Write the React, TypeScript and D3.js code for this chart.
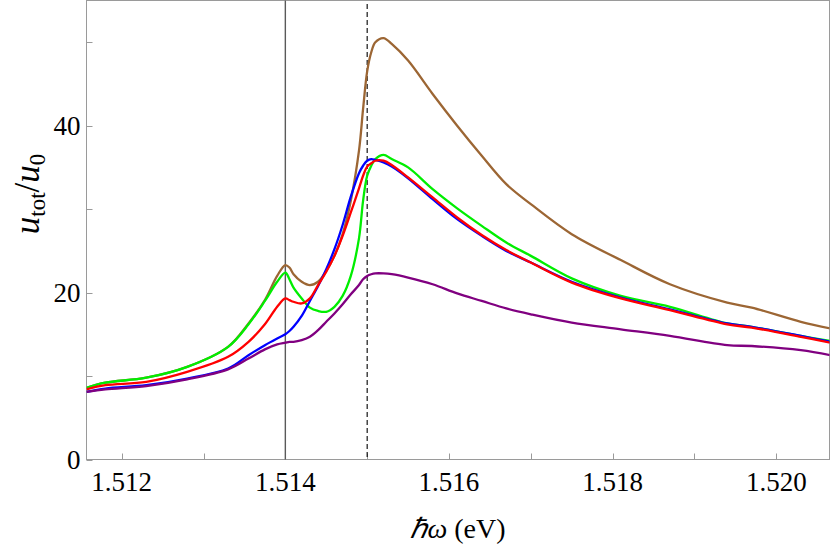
import React from "react";
import * as d3 from "d3";

// photon energy grid (eV)
const energy = [
  1.51157, 1.5118, 1.5123, 1.5128, 1.5133, 1.51355, 1.51375, 1.5139, 1.514,
  1.51405, 1.5141, 1.5142, 1.5143, 1.5144, 1.5145, 1.5146, 1.5147, 1.5148,
  1.5149, 1.51495, 1.515, 1.51505, 1.5151, 1.5152, 1.5153, 1.5155, 1.5158,
  1.5161, 1.5164, 1.5167, 1.517, 1.5175, 1.5181, 1.5187, 1.5194, 1.5197,
  1.5203, 1.52066,
];

const brownVals = [
  8.6, 9.2, 9.8, 11.1, 13.5, 16.3, 19.1, 22.0, 23.3, 23.0, 22.2, 21.3, 20.9,
  21.3, 22.6, 24.4, 27.0, 31.0, 37.0, 42.0, 46.5, 48.8, 50.0, 50.5, 49.8, 47.8,
  43.8, 40.0, 36.4, 33.0, 30.6, 27.0, 23.9, 21.0, 18.8, 18.2, 16.5, 15.7,
];

const greenVals = [
  8.6, 9.2, 9.8, 11.1, 13.5, 16.2, 19.0, 21.3, 22.4, 21.6, 20.6, 19.3, 18.2,
  17.8, 17.7, 18.3, 19.6, 22.0, 26.5, 31.0, 34.0, 35.2, 36.0, 36.5, 36.0, 35.0,
  32.4, 30.1, 28.0, 26.0, 24.4, 21.7, 19.6, 18.3, 16.3, 15.9, 14.8, 14.2,
];

const blueVals = [
  8.1, 8.5, 8.9, 9.7, 10.9, 12.5, 13.7, 14.5, 15.0, 15.4, 15.9, 17.2, 19.0,
  20.8, 22.8, 25.2, 28.1, 31.5, 34.3, 35.2, 35.8, 36.0, 35.9, 35.6, 35.1, 33.7,
  31.2, 28.8, 26.8, 25.0, 23.6, 21.3, 19.4, 18.0, 16.3, 15.9, 14.8, 14.1,
];

const redVals = [
  8.4, 8.9, 9.3, 10.5, 12.3, 14.1, 16.2, 18.3, 19.3, 19.1, 18.9, 18.7, 19.3,
  20.9, 22.5, 24.4, 26.8, 29.6, 32.5, 34.0, 35.1, 35.5, 35.8, 35.8, 35.3, 33.8,
  31.4, 29.0, 26.9, 25.1, 23.6, 21.2, 19.3, 17.9, 16.2, 15.8, 14.7, 14.0,
];

const purpleVals = [
  8.1, 8.4, 8.8, 9.6, 10.8, 12.1, 13.2, 13.8, 14.0, 14.1, 14.1, 14.3, 14.7,
  15.5, 16.5, 17.5, 18.6, 19.8, 20.9, 21.6, 22.0, 22.2, 22.3, 22.3, 22.2, 21.8,
  21.0, 19.9, 19.0, 18.1, 17.4, 16.4, 15.6, 14.8, 13.7, 13.6, 13.1, 12.5,
];

const xTicks = [1.512, 1.513, 1.514, 1.515, 1.516, 1.517, 1.518, 1.519, 1.52];
const xLabels = [1.512, 1.514, 1.516, 1.518, 1.52];
const yTicks = [0, 10, 20, 30, 40, 50];
const yLabels = [0, 20, 40];

const exciton = 1.514;
const resonance = 1.515;

const series = [
  { name: "brown", vals: brownVals, color: "#9c6634" },
  { name: "green", vals: greenVals, color: "#00ee00" },
  { name: "blue", vals: blueVals, color: "#0000ff" },
  { name: "red", vals: redVals, color: "#ff0000" },
  { name: "purple", vals: purpleVals, color: "#800080" },
];

const w = 830;
const h = 554;
const left = 86.5;
const right = 829.5;
const top = 0.5;
const bottom = 459.5;
const font = "Liberation Serif";
const frameColor = "#9a9a9a";
const txt = { fontFamily: font };

const App = () => {
  const x = d3.scaleLinear().domain([1.51157, 1.52065]).range([left, right]);
  const y = d3.scaleLinear().domain([0, 55]).range([bottom, top]);

  const line = d3
    .line<number>()
    .x((d, i) => x(energy[i]))
    .y((d) => y(d))
    .curve(d3.curveCatmullRom.alpha(0.5));

  return (
    <svg
      width={w}
      height={h}
      style={{ position: "absolute", left: 0, top: 0, fontFamily: font }}
    >
      <defs>
        <clipPath id="plotclip">
          <rect x={left} y={top} width={right - left} height={bottom - top} />
        </clipPath>
      </defs>

      {/* frame */}
      <rect
        x={left}
        y={top}
        width={right - left}
        height={bottom - top}
        fill="white"
        stroke={frameColor}
        strokeWidth={1}
      />

      {/* inward ticks */}
      {xTicks.map((t) => (
        <line
          key={"xt" + t}
          x1={Math.round(x(t)) + 0.5}
          x2={Math.round(x(t)) + 0.5}
          y1={bottom}
          y2={bottom - 6}
          stroke={frameColor}
        />
      ))}
      {yTicks.map((t) => (
        <line
          key={"yt" + t}
          x1={left}
          x2={left + 6}
          y1={Math.round(y(t)) + 0.5}
          y2={Math.round(y(t)) + 0.5}
          stroke={frameColor}
        />
      ))}

      {/* tick labels */}
      {xLabels.map((t) => (
        <text
          key={"xl" + t}
          x={x(t)}
          y={491}
          textAnchor="middle"
          fontFamily={font}
          fontSize={27}
          style={txt}
        >
          {d3.format(".3f")(t)}
        </text>
      ))}
      {yLabels.map((t) => (
        <text
          key={"yl" + t}
          x={80.5}
          y={y(t) + 9.5}
          textAnchor="end"
          fontFamily={font}
          fontSize={27}
          style={txt}
        >
          {t}
        </text>
      ))}

      {/* reference lines */}
      <line
        x1={x(exciton)}
        x2={x(exciton)}
        y1={top}
        y2={bottom}
        stroke="#5a5a5a"
        strokeWidth={1.4}
      />
      <line
        x1={x(resonance)}
        x2={x(resonance)}
        y1={4}
        y2={bottom}
        stroke="black"
        strokeWidth={1.1}
        strokeDasharray="5,3"
      />

      {/* curves */}
      <g clipPath="url(#plotclip)">
        {series.map((s) => (
          <path
            key={s.name}
            d={line(s.vals) || ""}
            fill="none"
            stroke={s.color}
            strokeWidth={2.3}
            strokeLinejoin="round"
          />
        ))}
      </g>

      {/* axis titles */}
      <text
        x={458}
        y={538}
        textAnchor="middle"
        fontFamily={font}
        fontSize={28}
        style={txt}
      >
        <tspan fontStyle="italic">ℏω</tspan> (eV)
      </text>
      <text
        transform="translate(39,194) rotate(-90)"
        textAnchor="middle"
        fontFamily={font}
        fontSize={35}
        style={txt}
      >
        <tspan fontStyle="italic">u</tspan>
        <tspan fontSize={23} dy={6}>
          tot
        </tspan>
        <tspan dy={-6}>/</tspan>
        <tspan fontStyle="italic">u</tspan>
        <tspan fontSize={23} dy={6}>
          0
        </tspan>
      </text>
    </svg>
  );
};

export default App;
